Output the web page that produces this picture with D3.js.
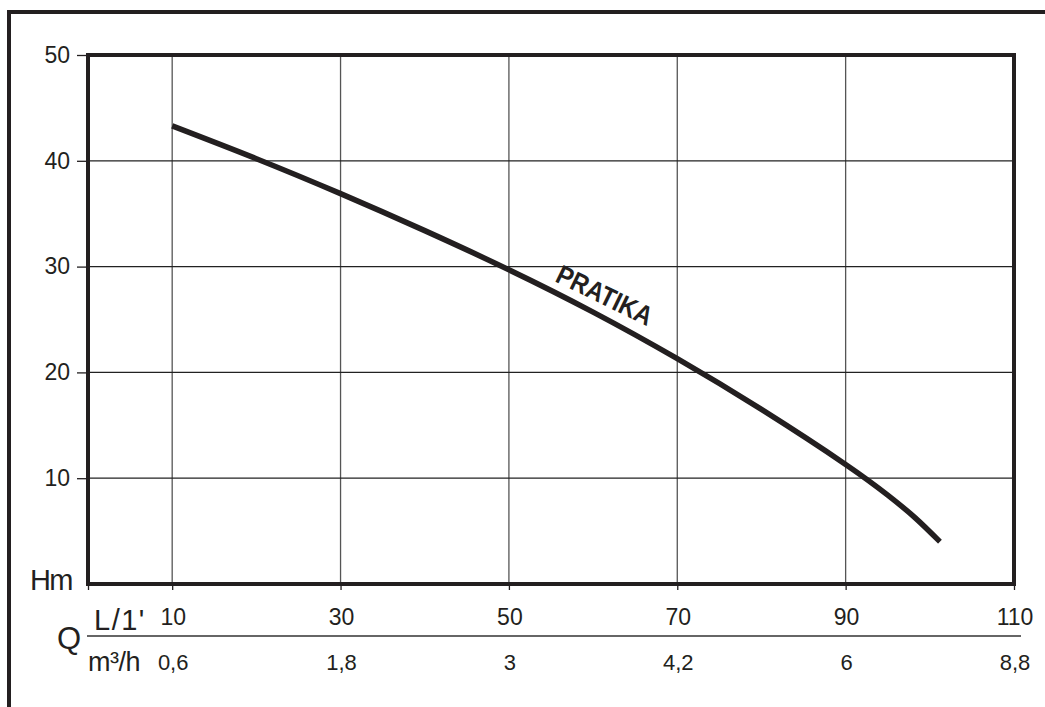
<!DOCTYPE html>
<html>
<head>
<meta charset="utf-8">
<script src="https://cdn.jsdelivr.net/npm/d3@7"></script>
<style>
  html, body { margin: 0; padding: 0; background: #fff; }
  svg { display: block; }
  text { font-family: "Liberation Sans", Arial, Helvetica, sans-serif; fill: #231f20; }
</style>
</head>
<body>
<svg id="chart" width="1045" height="707"></svg>
<script>
// ---- data ----
const flowTicksLpm = [10, 30, 50, 70, 90, 110];          // Q in L/1'
const flowLabelsM3h = ["0,6", "1,8", "3", "4,2", "6", "8,8"]; // Q in m³/h
const headTicks = [10, 20, 30, 40, 50];                    // Hm
const curveQ = [10, 20, 30, 40, 50, 60, 70, 80, 90, 95, 98.2, 101.2];
const curveH = [43.3, 40.2, 36.9, 33.4, 29.7, 25.7, 21.3, 16.5, 11.3, 8.4, 6.3, 4.0];
const curveName = "PRATIKA";
const curveLabelAt = [60.9, 26.5];

const ink = "#231f20";
const svg = d3.select("#chart");

const x = d3.scaleLinear().domain([0, 110]).range([88, 1014]);
const y = d3.scaleLinear().domain([0, 50]).range([584, 55]);

// outer frame (top + left)
svg.append("line").attr("x1", 7).attr("x2", 1045).attr("y1", 12).attr("y2", 12)
  .attr("stroke", ink).attr("stroke-width", 4);
svg.append("line").attr("x1", 9).attr("x2", 9).attr("y1", 10).attr("y2", 707)
  .attr("stroke", ink).attr("stroke-width", 4);

// grid
const grid = svg.append("g");
grid.selectAll("line.v").data(flowTicksLpm.filter(d => d < 110)).join("line")
  .attr("class", "v")
  .attr("x1", d => x(d)).attr("x2", d => x(d))
  .attr("y1", y(50)).attr("y2", y(0))
  .attr("stroke", "#555").attr("stroke-width", 1.3);
grid.selectAll("line.h").data(headTicks.filter(d => d < 50)).join("line")
  .attr("class", "h")
  .attr("x1", x(0)).attr("x2", x(110))
  .attr("y1", d => y(d)).attr("y2", d => y(d))
  .attr("stroke", "#222").attr("stroke-width", 1.2);

// curve
const pts = curveQ.map((q, i) => [q, curveH[i]]);
svg.append("path")
  .datum(pts)
  .attr("d", d3.line().x(d => x(d[0])).y(d => y(d[1])).curve(d3.curveNatural))
  .attr("fill", "none").attr("stroke", ink).attr("stroke-width", 5.5);

// curve label
svg.append("text")
  .attr("transform", `translate(${x(curveLabelAt[0])},${y(curveLabelAt[1])}) rotate(26) scale(0.95,1.08)`)
  .attr("text-anchor", "middle")
  .attr("font-size", 25).attr("font-weight", "bold")
  .text(curveName);

// plot border
svg.append("rect")
  .attr("x", x(0)).attr("y", y(50))
  .attr("width", x(110) - x(0)).attr("height", y(0) - y(50))
  .attr("fill", "none").attr("stroke", ink).attr("stroke-width", 4);

// y axis ticks + labels
const yAxis = d3.axisLeft(y).tickValues(headTicks).tickSize(10).tickPadding(7);
const gy = svg.append("g").attr("transform", `translate(${x(0) - 1},0)`).call(yAxis);
gy.select(".domain").remove();
gy.selectAll(".tick line").attr("stroke", ink).attr("stroke-width", 1.3);
gy.selectAll(".tick text").attr("font-size", 23).attr("fill", ink)
  .style("font-family", '"Liberation Sans", Arial, sans-serif');

// Hm label
svg.append("text").attr("x", 72).attr("y", 590).attr("text-anchor", "end")
  .attr("font-size", 29).attr("letter-spacing", -1.5).text("Hm");

// x axis tick marks (below the border)
const xAxis = d3.axisBottom(x).tickValues([0].concat(flowTicksLpm)).tickSize(6).tickFormat("");
const gx = svg.append("g").attr("transform", `translate(0,${y(0)})`).call(xAxis);
gx.select(".domain").remove();
gx.selectAll(".tick line").attr("stroke", ink).attr("stroke-width", 1.3);

// x labels, two rows
svg.append("g").selectAll("text").data(flowTicksLpm).join("text")
  .attr("x", d => x(d) + 1).attr("y", 625)
  .attr("text-anchor", "middle").attr("font-size", 23)
  .text(d => d);
svg.append("g").selectAll("text").data(flowLabelsM3h).join("text")
  .attr("x", (d, i) => x(flowTicksLpm[i]) + 1).attr("y", 670)
  .attr("text-anchor", "middle").attr("font-size", 22)
  .text(d => d);

// fraction line
svg.append("line").attr("x1", 87).attr("x2", 1021).attr("y1", 636).attr("y2", 636)
  .attr("stroke", "#333").attr("stroke-width", 1.5);

// Q, L/1', m³/h
svg.append("text").attr("x", 57).attr("y", 649).attr("font-size", 31).text("Q");
svg.append("text").attr("x", 94).attr("y", 630).attr("font-size", 29)
  .attr("letter-spacing", 1.5).text("L/1'");
svg.append("text").attr("x", 88).attr("y", 671).attr("font-size", 27)
  .attr("letter-spacing", -0.5).text("m³/h");
</script>
</body>
</html>
